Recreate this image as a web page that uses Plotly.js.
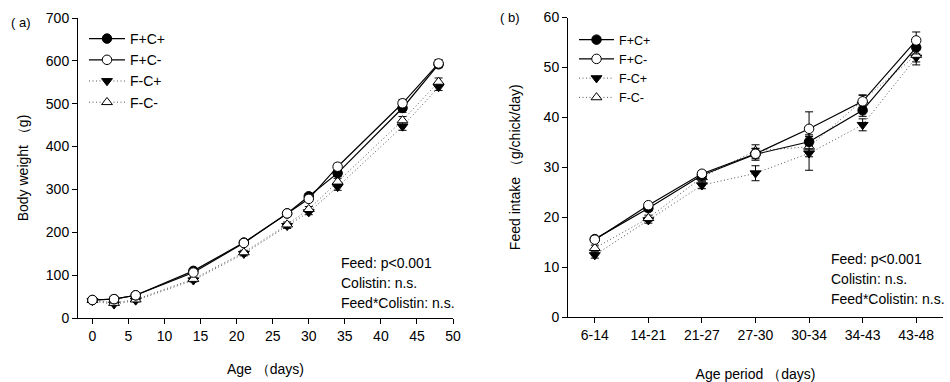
<!DOCTYPE html>
<html>
<head>
<meta charset="utf-8">
<script src="https://cdn.plot.ly/plotly-3.0.1.min.js"></script>
<style>html,body{margin:0;padding:0;background:#fff;}#chart{width:950px;height:382px;}</style>
</head>
<body>
<div id="chart"></div>
<script>
// ---- Data ----
const seriesNames = ["F+C+", "F+C-", "F-C+", "F-C-"];

// Panel (a): body weight by age
const ageDays = [0, 3, 6, 14, 21, 27, 30, 34, 43, 48];
const bwFpCp = [42, 44, 53, 110, 176, 244, 284, 338, 490, 592];
const bwFpCm = [42, 44, 53, 106, 175, 244, 278, 353, 501, 594];
const bwFmCp = [40, 32, 41, 88, 150, 215, 247, 306, 447, 539];
const bwFmCm = [42, 35, 43, 91, 153, 218, 254, 318, 461, 551];
const bwErrFpCp = [2, 2, 3, 4, 5, 5, 6, 8, 10, 8];
const bwErrFpCm = [2, 2, 3, 4, 5, 5, 6, 8, 9, 9];
const bwErrFmCp = [2, 2, 3, 4, 5, 6, 6, 8, 9, 8];
const bwErrFmCm = [2, 2, 3, 4, 5, 6, 6, 8, 9, 9];

// Panel (b): feed intake by age period
const agePeriods = ["6-14", "14-21", "21-27", "27-30", "30-34", "34-43", "43-48"];
const fiFpCp = [15.6, 21.8, 28.4, 32.6, 35.1, 41.4, 54.0];
const fiFpCm = [15.5, 22.4, 28.7, 32.7, 37.7, 43.2, 55.4];
const fiFmCp = [12.4, 19.4, 26.4, 28.8, 32.8, 38.5, 52.0];
const fiFmCm = [13.8, 19.8, 28.0, 33.3, 34.1, 43.4, 52.5];
const fiErrFpCp = [0.5, 0.6, 0.7, 1.2, 1.4, 1.2, 1.3];
const fiErrFpCm = [0.5, 0.5, 0.6, 1.0, 3.4, 1.2, 1.7];
const fiErrFmCp = [0.6, 0.6, 0.7, 1.5, 3.4, 1.2, 1.5];
const fiErrFmCm = [0.6, 0.6, 0.7, 1.2, 2.0, 1.1, 1.4];

const stats = ["Feed: p<0.001", "Colistin: n.s.", "Feed*Colistin: n.s."];

// ---- Styles ----
const FONT = "Liberation Sans, Arial, sans-serif";
const styles = [
  {dash: "solid", width: 1.2, symbol: "circle", fill: "#000", lc: "#000"},
  {dash: "solid", width: 1.2, symbol: "circle", fill: "#fff", lc: "#000"},
  {dash: "1px,2.5px", width: 1, symbol: "triangle-down", fill: "#000", lc: "#555"},
  {dash: "1px,2.5px", width: 1, symbol: "triangle-up", fill: "#fff", lc: "#555"}
];

function mk(x, y, err, i, xa, ya, leg) {
  const s = styles[i];
  return {
    type: "scatter", mode: "lines+markers",
    x: x, y: y, name: seriesNames[i],
    xaxis: xa, yaxis: ya, legend: leg,
    legendgroup: leg + i, legendrank: i + 1,
    line: {color: s.lc, width: s.width, dash: s.dash},
    marker: {symbol: s.symbol, size: 9.5, color: s.fill, line: {color: "#000", width: 1}},
    error_y: {type: "data", array: err, visible: true, color: "#000", thickness: 1, width: 4}
  };
}

const data = [
  mk(ageDays, bwFmCp, bwErrFmCp, 2, "x", "y", "legend"),
  mk(ageDays, bwFmCm, bwErrFmCm, 3, "x", "y", "legend"),
  mk(ageDays, bwFpCp, bwErrFpCp, 0, "x", "y", "legend"),
  mk(ageDays, bwFpCm, bwErrFpCm, 1, "x", "y", "legend"),
  mk(agePeriods, fiFmCp, fiErrFmCp, 2, "x2", "y2", "legend2"),
  mk(agePeriods, fiFmCm, fiErrFmCm, 3, "x2", "y2", "legend2"),
  mk(agePeriods, fiFpCp, fiErrFpCp, 0, "x2", "y2", "legend2"),
  mk(agePeriods, fiFpCm, fiErrFpCm, 1, "x2", "y2", "legend2")
];

const axBase = {
  showline: true, linecolor: "#000", linewidth: 1,
  ticks: "outside", ticklen: 5, tickcolor: "#000", tickwidth: 1,
  showgrid: false, zeroline: false, automargin: false,
  tickfont: {family: FONT, size: 14, color: "#000"}
};

function statAnn(xpx, ypxs) {
  return stats.map((t, k) => ({
    text: t, xref: "paper", yref: "paper",
    x: xpx / 950, y: 1 - ypxs[k] / 382, xanchor: "left", yanchor: "middle",
    showarrow: false, font: {family: FONT, size: 14, color: "#000"}
  }));
}

const layout = {
  width: 950, height: 382,
  margin: {l: 0, r: 0, t: 0, b: 0},
  paper_bgcolor: "#fff", plot_bgcolor: "#fff",
  font: {family: FONT, size: 14, color: "#000"},
  xaxis: Object.assign({}, axBase, {
    domain: [78 / 950, 453 / 950], range: [-2, 50], dtick: 5, anchor: "y",
    title: {text: "Age （days)", font: {family: FONT, size: 14}, standoff: 21}
  }),
  yaxis: Object.assign({}, axBase, {
    domain: [1 - 318 / 382, 1 - 18 / 382], range: [0, 700], dtick: 100, anchor: "x",
    title: {text: "Body weight （g)", font: {family: FONT, size: 14}, standoff: 13}
  }),
  xaxis2: Object.assign({}, axBase, {
    domain: [568 / 950, 943 / 950], range: [-0.5, 6.5], type: "category", anchor: "y2",
    title: {text: "Age period （days)", font: {family: FONT, size: 14}, standoff: 27}
  }),
  yaxis2: Object.assign({}, axBase, {
    domain: [1 - 317 / 382, 1 - 17.5 / 382], range: [0, 60], dtick: 10, anchor: "x2",
    title: {text: "Feed intake （g/chick/day)", font: {family: FONT, size: 14}, standoff: 19}
  }),
  legend: {
    x: 84 / 950, y: 1 - 23 / 382, xanchor: "left", yanchor: "top",
    bgcolor: "rgba(0,0,0,0)", borderwidth: 0, traceorder: "normal", itemwidth: 36,
    tracegroupgap: 4, font: {family: FONT, size: 14, color: "#000"}
  },
  legend2: {
    x: 574 / 950, y: 1 - 25 / 382, xanchor: "left", yanchor: "top",
    bgcolor: "rgba(0,0,0,0)", borderwidth: 0, traceorder: "normal", itemwidth: 35,
    tracegroupgap: 0, font: {family: FONT, size: 12.5, color: "#000"}
  },
  annotations: [
    {text: "( a)", xref: "paper", yref: "paper", x: 9 / 950, y: 1 - 22 / 382,
     xanchor: "left", yanchor: "middle", showarrow: false, font: {family: FONT, size: 13}},
    {text: "( b)", xref: "paper", yref: "paper", x: 498 / 950, y: 1 - 17 / 382,
     xanchor: "left", yanchor: "middle", showarrow: false, font: {family: FONT, size: 13}}
  ].concat(statAnn(339, [263, 283, 303])).concat(statAnn(829, [259, 279, 299]))
};

Plotly.newPlot("chart", data, layout, {displayModeBar: false, staticPlot: true});
</script>
</body>
</html>
